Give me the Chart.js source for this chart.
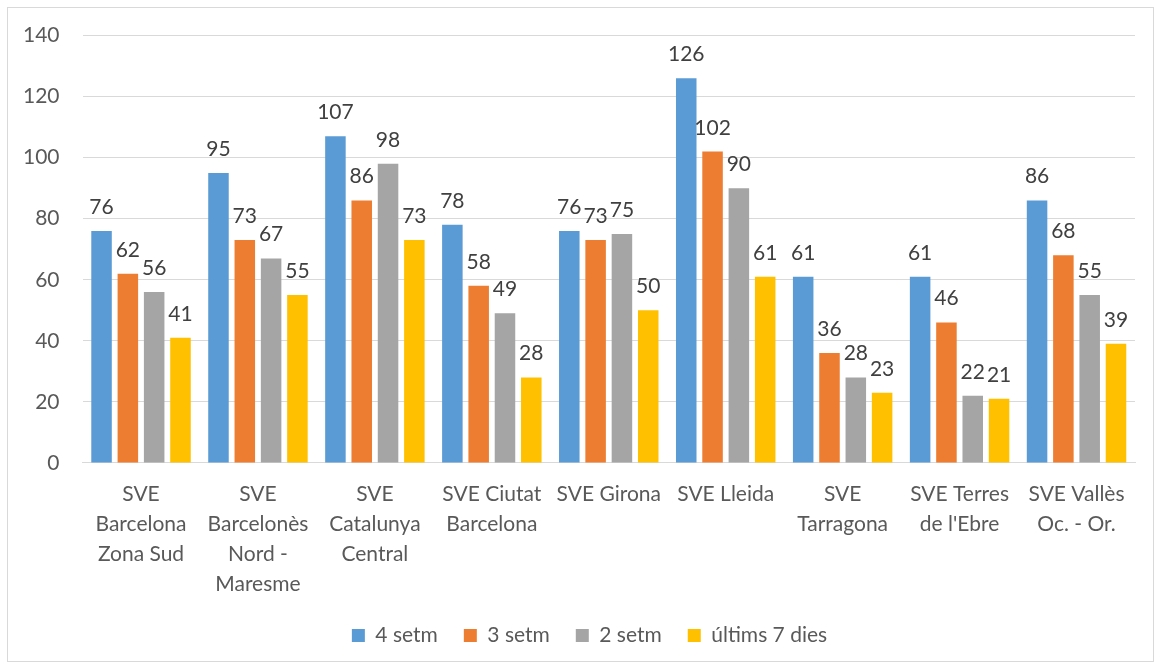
<!DOCTYPE html>
<html lang="ca">
<head>
<meta charset="UTF-8">
<title>SVE</title>
<script src="https://cdn.jsdelivr.net/npm/chart.js"></script>
<style>
  html, body { margin: 0; padding: 0; background: #fff; }
  .frame { position: absolute; left: 7px; top: 7px; width: 1145px; height: 653px; border: 1px solid #d9d9d9; }
  .wrap { position: absolute; left: 0; top: 0; width: 1160px; height: 668px; }
</style>
</head>
<body>
<div class="frame"></div>
<div class="wrap"><canvas id="chart" width="1160" height="668"></canvas></div>
<script>
const categories = [
  ['SVE', 'Barcelona', 'Zona Sud'],
  ['SVE', 'Barcelonès', 'Nord -', 'Maresme'],
  ['SVE', 'Catalunya', 'Central'],
  ['SVE Ciutat', 'Barcelona'],
  ['SVE Girona'],
  ['SVE Lleida'],
  ['SVE', 'Tarragona'],
  ['SVE Terres', "de l'Ebre"],
  ['SVE Vallès', 'Oc. - Or.']
];
const seriesNames = ['4 setm', '3 setm', '2 setm', 'últims 7 dies'];
const setm4 = [76, 95, 107, 78, 76, 126, 61, 61, 86];
const setm3 = [62, 73, 86, 58, 73, 102, 36, 46, 68];
const setm2 = [56, 67, 98, 49, 75, 90, 28, 22, 55];
const ultims7 = [41, 55, 73, 28, 50, 61, 23, 21, 39];
const colors = ['#5b9bd5', '#ed7d31', '#a5a5a5', '#ffc000'];

const fontFamily = 'Lato, "Open Sans", sans-serif';
const legendShrink = 18;

// value labels above each bar
const valueLabels = {
  id: 'valueLabels',
  afterDatasetsDraw(chart) {
    const ctx = chart.ctx;
    ctx.save();
    ctx.font = '21px ' + fontFamily;
    ctx.fillStyle = '#404040';
    ctx.textAlign = 'center';
    ctx.textBaseline = 'alphabetic';
    chart.data.datasets.forEach((ds, i) => {
      chart.getDatasetMeta(i).data.forEach((bar, j) => {
        ctx.fillText(ds.data[j], bar.x, bar.y - 17);
      });
    });
    ctx.restore();
  }
};

// legend takes less room above its items, so the plot reaches lower
const tightLegend = {
  id: 'tightLegend',
  beforeInit(chart) {
    const fit = chart.legend.fit;
    chart.legend.fit = function () {
      fit.call(this);
      this.height -= legendShrink;
    };
  },
  afterLayout(chart) {
    const lg = chart.legend;
    lg.top -= legendShrink - 2;
    lg.height += legendShrink - 2;
    lg.left += 22;
    lg.right += 22;
  }
};

const allData = [setm4, setm3, setm2, ultims7];

new Chart(document.getElementById('chart'), {
  type: 'bar',
  data: {
    labels: categories,
    datasets: seriesNames.map((name, i) => ({
      label: name,
      data: allData[i],
      backgroundColor: colors[i],
      categoryPercentage: 0.9,
      barPercentage: 0.78
    }))
  },
  options: {
    responsive: false,
    animation: false,
    layout: { padding: { left: 0, right: 25, top: 27, bottom: 14 } },
    plugins: {
      legend: {
        position: 'bottom',
        labels: {
          boxWidth: 13,
          boxHeight: 13,
          padding: 26,
          color: '#595959',
          font: { family: fontFamily, size: 21 }
        }
      },
      tooltip: { enabled: false }
    },
    scales: {
      x: {
        grid: { display: false, drawTicks: false },
        border: { color: '#d9d9d9', width: 1 },
        ticks: {
          color: '#595959',
          font: { family: fontFamily, size: 21, lineHeight: 1.43 },
          padding: 16,
          maxRotation: 0,
          autoSkip: false
        }
      },
      y: {
        min: 0,
        max: 140,
        grid: { color: '#d9d9d9', drawTicks: false },
        border: { display: false },
        ticks: {
          stepSize: 20,
          color: '#595959',
          font: { family: fontFamily, size: 21 },
          padding: 23
        }
      }
    }
  },
  plugins: [valueLabels, tightLegend]
});
</script>
</body>
</html>
